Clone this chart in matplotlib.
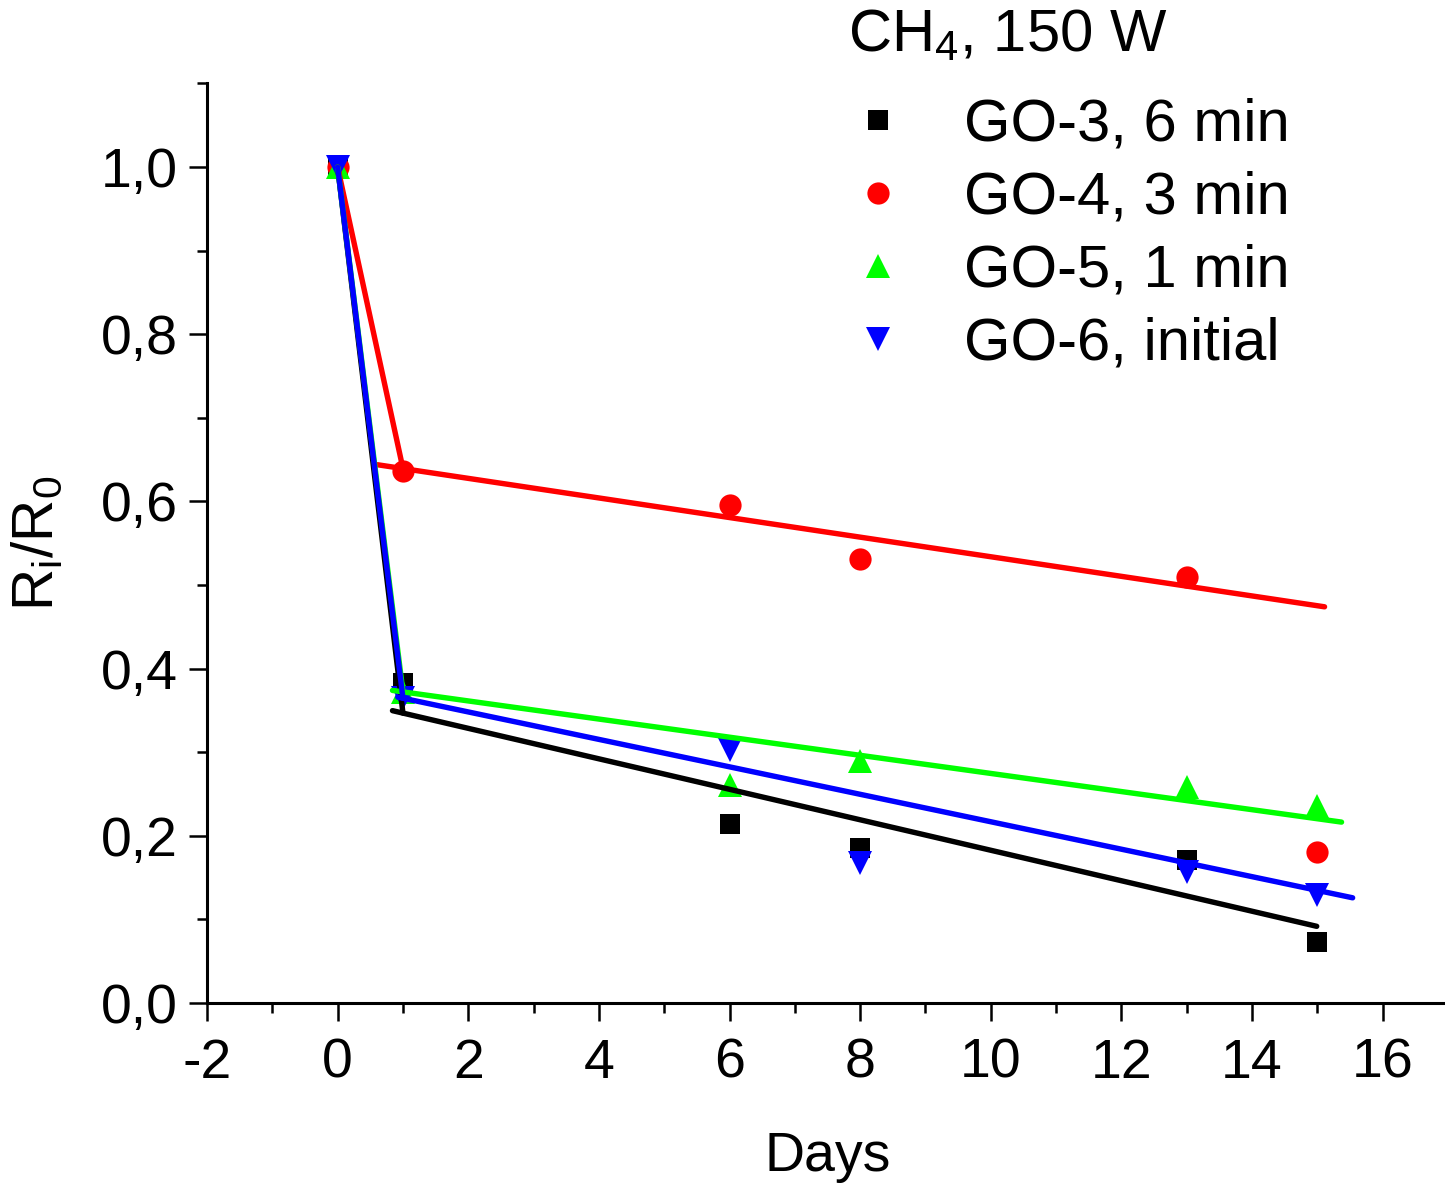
import matplotlib
matplotlib.use('Agg')
import matplotlib.pyplot as plt
import numpy as np
from matplotlib.ticker import MultipleLocator, FuncFormatter
from matplotlib.lines import Line2D

plt.rcParams['font.family'] = ['Liberation Sans', 'DejaVu Sans']
plt.rcParams['mathtext.default'] = 'regular'
plt.rcParams['axes.unicode_minus'] = False

# ---- data ----
days = [0, 1, 6, 8, 13, 15]
labels = ['GO-3, 6 min', 'GO-4, 3 min', 'GO-5, 1 min', 'GO-6, initial']
legend_title = 'CH$_4$, 150 W'
go3 = [1.0, 0.383, 0.214, 0.185, 0.171, 0.073]
go4 = [1.0, 0.636, 0.596, 0.531, 0.510, 0.181]
go5 = [1.0, 0.372, 0.261, 0.290, 0.258, 0.236]
go6 = [1.0, 0.365, 0.303, 0.167, 0.157, 0.129]
series = [go3, go4, go5, go6]

# linear-fit lines (intercept, slope, x-range)
fit_intercept = [0.365, 0.651, 0.383, 0.381]
fit_slope = [-0.01823, -0.01172, -0.01084, -0.01642]
fit_start = [0.84, 0.61, 0.84, 0.92]
fit_end = [14.99, 15.11, 15.37, 15.54]

colors = ['#000000', '#FF0000', '#00FF00', '#0000FF']
markers = ['s', 'o', '^', 'v']
msizes = [14, 16, 17, 17]

W, H = 1445, 1188
fig = plt.figure(figsize=(W / 100, H / 100), dpi=100)
ax = fig.add_axes([207 / W, 1 - 1003 / H, 1241 / W, 919.6 / H])

# scatter points
for ys, c, m, ms in zip(series, colors, markers, msizes):
    ax.plot(days, ys, linestyle='none', marker=m, color=c, markersize=ms,
            markeredgewidth=0, zorder=3)

# steep segment + fit line
for ys, c, b, s, x0, x1 in zip(series, colors, fit_intercept, fit_slope,
                               fit_start, fit_end):
    ax.plot([days[0], days[1]], [ys[0], b + s * days[1]], color=c, lw=3.9,
            solid_capstyle='round', zorder=4)
    xf = np.array([x0, x1])
    ax.plot(xf, b + s * xf, color=c, lw=3.9, solid_capstyle='round', zorder=4)

ax.set_xlim(-2, 17)
ax.set_ylim(0, 1.1)
ax.xaxis.set_major_locator(MultipleLocator(2))
ax.xaxis.set_minor_locator(MultipleLocator(1))
ax.yaxis.set_major_locator(MultipleLocator(0.2))
ax.yaxis.set_minor_locator(MultipleLocator(0.1))
ax.xaxis.set_major_formatter(FuncFormatter(lambda v, p: f'{int(round(v))}'))
ax.yaxis.set_major_formatter(FuncFormatter(lambda v, p: f'{v:.1f}'.replace('.', ',')))

for sp in ['top', 'right']:
    ax.spines[sp].set_visible(False)
for sp in ['left', 'bottom']:
    ax.spines[sp].set_linewidth(2.2)

ax.tick_params(which='major', direction='out', length=13, width=1.8,
               labelsize=40, pad=8)
ax.tick_params(which='minor', direction='out', length=7, width=1.8)
ax.tick_params(axis='x', which='major', pad=12)

ax.set_xlabel('Days', fontsize=40, labelpad=30)
ax.set_ylabel('R$_i$/R$_0$', fontsize=42, labelpad=26)

handles = [Line2D([], [], linestyle='none', marker=m, color=c, markersize=ms,
                  markeredgewidth=0)
           for c, m, ms in zip(colors, markers, msizes)]
leg = fig.legend(handles, labels, loc='upper left',
                 bbox_to_anchor=(848 / W, 1 - 98 / H), frameon=False,
                 fontsize=43, handlelength=1.0,
                 handletextpad=0.95, labelspacing=0.30, borderpad=0,
                 borderaxespad=0)
fig.text(848 / W, 1 - 52 / H, legend_title, fontsize=43, ha='left',
         va='baseline')

fig.savefig('out.png', dpi=100)
